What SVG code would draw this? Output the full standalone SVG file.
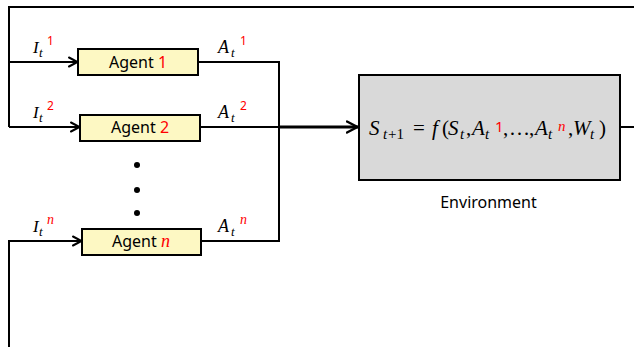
<svg xmlns="http://www.w3.org/2000/svg" width="634" height="347" viewBox="0 0 634 347">
  <style>
    .wire { fill: none; stroke: #000; stroke-width: 2; }
    .bus { fill: none; stroke: #000; stroke-width: 3; }
    .agent { fill: #fdf8c3; stroke: #000; stroke-width: 2; }
    .env { fill: #d9d9d9; stroke: #000; stroke-width: 2; }
    .lbl { font-family: "Noto Sans", "Open Sans", sans-serif; font-size: 16px; fill: #000; }
    .math { font-family: "Liberation Serif", "DejaVu Serif", serif; font-style: italic; fill: #000; }
    .up { font-family: "Liberation Serif", "DejaVu Serif", serif; font-style: normal; }
    .num { font-family: "Noto Sans", "Open Sans", sans-serif; font-style: normal; fill: #ff0000; }
    .red { fill: #ff0000; }
  </style>
  <defs>
    <marker id="chev" viewBox="0 0 12 12" refX="10.5" refY="6" markerWidth="12" markerHeight="12" markerUnits="userSpaceOnUse" orient="auto">
      <path d="M1.5,1.5 L10,6 L1.5,10.5" fill="none" stroke="#000" stroke-width="2" stroke-linecap="round"/>
    </marker>
    <marker id="chevBig" viewBox="0 0 14 14" refX="12.5" refY="7" markerWidth="14" markerHeight="14" markerUnits="userSpaceOnUse" orient="auto">
      <path d="M1.5,1.5 L12,7 L1.5,12.5" fill="none" stroke="#000" stroke-width="2.5" stroke-linecap="round"/>
    </marker>
  </defs>

  <g id="connectors">
    <!-- feedback loop from the environment back to the agents -->
    <polyline class="wire" points="634,7 9,7 9,127"/>
    <line class="wire" x1="9" y1="62" x2="78" y2="62" marker-end="url(#chev)"/>
    <line class="wire" x1="9" y1="127" x2="80" y2="127" marker-end="url(#chev)"/>
    <polyline class="wire" points="9,347 9,241 82,241" marker-end="url(#chev)"/>
    <!-- agent actions collected on the right -->
    <polyline class="wire" points="198,62 279,62 279,241 201,241"/>
    <line class="wire" x1="200" y1="127" x2="279" y2="127"/>
    <line class="bus" x1="279" y1="127" x2="358" y2="127" marker-end="url(#chevBig)"/>
    <line class="wire" x1="620" y1="127" x2="634" y2="127"/>
  </g>

  <g id="agent1">
    <rect class="agent" x="78" y="49" width="120" height="26"/>
    <text class="lbl" x="138" y="68" text-anchor="middle">Agent <tspan class="red">1</tspan></text>
  </g>
  <g id="agent2">
    <rect class="agent" x="80" y="115" width="120" height="26"/>
    <text class="lbl" x="140" y="133" text-anchor="middle">Agent <tspan class="red">2</tspan></text>
  </g>
  <g id="agentn">
    <rect class="agent" x="82" y="229" width="119" height="26"/>
    <text class="lbl" x="141" y="247" text-anchor="middle">Agent <tspan class="red math" font-size="18">n</tspan></text>
  </g>

  <g id="ellipsis">
    <circle cx="137" cy="165" r="3"/>
    <circle cx="137" cy="190" r="3"/>
    <circle cx="137" cy="213" r="3"/>
  </g>

  <g id="input-labels" class="math">
    <text x="33" y="53" font-size="17">I</text><text x="39" y="57" font-size="13">t</text><text class="num" x="47" y="45" font-size="12">1</text>
    <text x="33" y="118" font-size="17">I</text><text x="39" y="122" font-size="13">t</text><text class="num" x="47" y="110" font-size="12">2</text>
    <text x="33" y="232" font-size="17">I</text><text x="39" y="236" font-size="13">t</text><text class="red" x="47" y="224" font-size="14">n</text>
  </g>
  <g id="action-labels" class="math">
    <text x="218" y="53" font-size="18">A</text><text x="231" y="57" font-size="13">t</text><text class="num" x="240" y="45" font-size="12">1</text>
    <text x="218" y="118" font-size="18">A</text><text x="231" y="122" font-size="13">t</text><text class="num" x="240" y="110" font-size="12">2</text>
    <text x="218" y="232" font-size="18">A</text><text x="231" y="236" font-size="13">t</text><text class="red" x="240" y="224" font-size="14">n</text>
  </g>

  <g id="environment">
    <rect class="env" x="359" y="75" width="261" height="105"/>
    <!-- state transition S(t+1) = f(S(t), A(t)^1, ..., A(t)^n, W(t)) -->
    <text class="math" font-size="21">
      <tspan x="369" y="135">S</tspan>
      <tspan x="383" y="139" font-size="15">t</tspan>
      <tspan x="388" y="139" font-size="15" class="up">+1</tspan>
      <tspan x="413" y="135" class="up">=</tspan>
      <tspan x="432" y="135">f</tspan>
      <tspan x="442" y="135" class="up">(</tspan>
      <tspan x="448" y="135">S</tspan>
      <tspan x="460" y="139" font-size="15">t</tspan>
      <tspan x="466" y="135" class="up">,</tspan>
      <tspan x="472" y="135">A</tspan>
      <tspan x="485" y="139" font-size="15">t</tspan>
      <tspan x="495" y="132" font-size="15" class="num">1</tspan>
      <tspan x="503" y="135" class="up">,</tspan>
      <tspan x="509" y="135" class="up">…</tspan>
      <tspan x="529" y="135" class="up">,</tspan>
      <tspan x="535" y="135">A</tspan>
      <tspan x="548" y="139" font-size="15">t</tspan>
      <tspan x="558" y="131" font-size="15" class="red">n</tspan>
      <tspan x="568" y="135" class="up">,</tspan>
      <tspan x="573" y="135">W</tspan>
      <tspan x="590" y="139" font-size="15">t</tspan>
      <tspan x="599" y="135" class="up">)</tspan>
    </text>
    <text class="lbl" x="488.5" y="208" text-anchor="middle">Environment</text>
  </g>
</svg>
